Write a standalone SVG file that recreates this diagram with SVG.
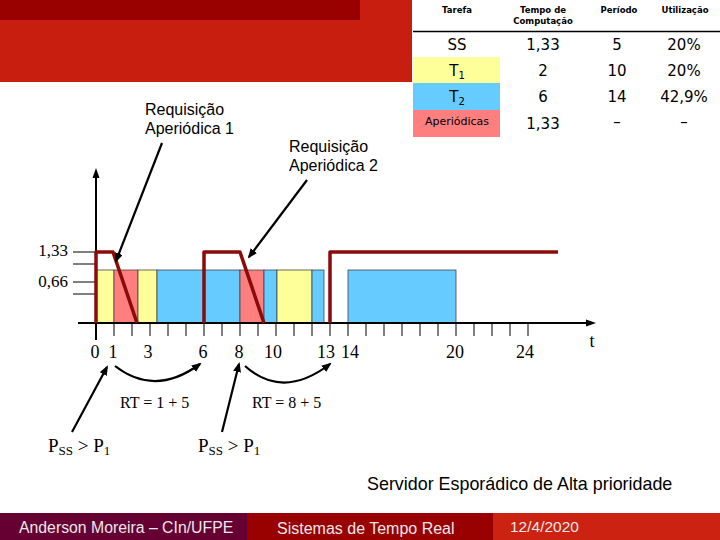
<svg xmlns="http://www.w3.org/2000/svg" width="720" height="540" viewBox="0 0 720 540">
<style>
.hdr{font-family:"DejaVu Sans","Liberation Sans",sans-serif;font-size:8.5px;font-weight:bold;fill:#000;text-anchor:middle}
.cell{font-family:"DejaVu Sans","Liberation Sans",sans-serif;font-size:15px;fill:#000;text-anchor:middle}
.lab{font-family:"Liberation Sans",Arial,sans-serif;font-size:15.5px;fill:#000}
.ser{font-family:"Liberation Serif","Times New Roman",serif;font-size:18px;fill:#000}
.foot{font-family:"Liberation Sans",Arial,sans-serif;font-size:15.5px;fill:#e8e8e8}
.y{fill:#ffff99;stroke:#444;stroke-width:0.8}
.b{fill:#66ccff;stroke:#444;stroke-width:0.8}
.p{fill:#ff7f7f;stroke:#444;stroke-width:0.8}
.wave{fill:none;stroke:#8b0a0a;stroke-width:3.5;stroke-linejoin:round}
.ax{stroke:#000;stroke-width:2;fill:none}
.tk{stroke:#000;stroke-width:1}
.arr{stroke:#000;stroke-width:2.2;fill:none;marker-end:url(#ah)}
</style>
<defs>
<marker id="ah" markerWidth="10" markerHeight="8" refX="8" refY="4" orient="auto" markerUnits="userSpaceOnUse">
<path d="M0,0 L10,4 L0,8 z" fill="#000"/>
</marker>
</defs>

<g id="header">
<rect x="0" y="0" width="412" height="82" fill="#c81e0f"/>
<rect x="0" y="0" width="360" height="20" fill="#990000"/>
</g>

<g id="table">
<rect x="413" y="57" width="87" height="26" fill="#ffff99"/>
<rect x="413" y="83" width="87" height="27" fill="#66ccff"/>
<rect x="413" y="110" width="87" height="27" fill="#ff7f7f"/>
<line x1="413" y1="31.5" x2="720" y2="31.5" stroke="#000" stroke-width="1.5"/>
<text class="hdr" x="457" y="13">Tarefa</text>
<text class="hdr" x="543" y="13">Tempo de</text>
<text class="hdr" x="543" y="24">Computação</text>
<text class="hdr" x="619" y="13">Período</text>
<text class="hdr" x="685" y="13">Utilização</text>
<text class="cell" x="457" y="50">SS</text>
<text class="cell" x="543" y="50">1,33</text>
<text class="cell" x="617" y="50">5</text>
<text class="cell" x="684" y="50">20%</text>
<text class="cell" x="457" y="76">T<tspan font-size="10" dy="3">1</tspan></text>
<text class="cell" x="543" y="76">2</text>
<text class="cell" x="617" y="76">10</text>
<text class="cell" x="684" y="76">20%</text>
<text class="cell" x="457" y="102">T<tspan font-size="10" dy="3">2</tspan></text>
<text class="cell" x="543" y="102">6</text>
<text class="cell" x="617" y="102">14</text>
<text class="cell" x="684" y="102">42,9%</text>
<text class="cell" x="457" y="125" style="font-size:11px">Aperiódicas</text>
<text class="cell" x="543" y="129">1,33</text>
<text class="cell" x="617" y="127">–</text>
<text class="cell" x="684" y="127">–</text>
</g>

<g id="bars">
<rect class="y" x="96" y="270" width="18" height="53"/>
<rect class="p" x="114" y="270" width="24" height="53"/>
<rect class="y" x="138" y="270" width="19" height="53"/>
<rect class="b" x="157" y="270" width="83" height="53"/>
<rect class="p" x="240" y="270" width="24" height="53"/>
<rect class="b" x="264" y="270" width="13" height="53"/>
<rect class="y" x="277" y="270" width="35" height="53"/>
<rect class="b" x="312" y="270" width="12" height="53"/>
<rect class="b" x="348" y="270" width="108" height="53"/>
</g>

<g id="axes">
<line class="ax" x1="96" y1="340" x2="96" y2="176"/>
<path d="M96,168 L92.5,178 L99.5,178 z" fill="#000"/>
<line class="ax" x1="78" y1="323" x2="588" y2="323"/>
<path d="M596,323 L586,319.5 L586,326.5 z" fill="#000"/>
<g class="tk">
<line x1="73" y1="252" x2="96" y2="252"/>
<line x1="73" y1="264" x2="96" y2="264"/>
<line x1="73" y1="282" x2="96" y2="282"/>
<line x1="73" y1="294" x2="96" y2="294"/>
<line x1="114" y1="323" x2="114" y2="336"/>
<line x1="132" y1="323" x2="132" y2="336"/>
<line x1="150" y1="323" x2="150" y2="336"/>
<line x1="168" y1="323" x2="168" y2="336"/>
<line x1="186" y1="323" x2="186" y2="336"/>
<line x1="204" y1="323" x2="204" y2="336"/>
<line x1="222" y1="323" x2="222" y2="336"/>
<line x1="240" y1="323" x2="240" y2="336"/>
<line x1="258" y1="323" x2="258" y2="336"/>
<line x1="276" y1="323" x2="276" y2="336"/>
<line x1="294" y1="323" x2="294" y2="336"/>
<line x1="312" y1="323" x2="312" y2="336"/>
<line x1="330" y1="323" x2="330" y2="336"/>
<line x1="348" y1="323" x2="348" y2="336"/>
<line x1="366" y1="323" x2="366" y2="336"/>
<line x1="384" y1="323" x2="384" y2="336"/>
<line x1="402" y1="323" x2="402" y2="336"/>
<line x1="420" y1="323" x2="420" y2="336"/>
<line x1="438" y1="323" x2="438" y2="336"/>
<line x1="456" y1="323" x2="456" y2="336"/>
<line x1="474" y1="323" x2="474" y2="336"/>
<line x1="492" y1="323" x2="492" y2="336"/>
<line x1="510" y1="323" x2="510" y2="336"/>
<line x1="528" y1="323" x2="528" y2="336"/>
</g>
<text class="ser" x="68" y="256" text-anchor="end" style="font-size:17px">1,33</text>
<text class="ser" x="68" y="287" text-anchor="end" style="font-size:17px">0,66</text>
<g class="ser" text-anchor="middle">
<text x="95" y="358">0</text>
<text x="113" y="358">1</text>
<text x="148" y="358">3</text>
<text x="203" y="358">6</text>
<text x="239" y="358">8</text>
<text x="273" y="358">10</text>
<text x="326" y="358">13</text>
<text x="350" y="358">14</text>
<text x="455" y="358">20</text>
<text x="525" y="358">24</text>
<text x="592" y="347">t</text>
</g>
</g>

<g id="waveform">
<path class="wave" d="M96,323 V252 H113 L137,323"/>
<path class="wave" d="M204,323 V252 H240 L264,323"/>
<path class="wave" d="M330,323 V252 H558"/>
</g>

<g id="req1">
<text class="lab" x="145" y="115" style="font-size:16px">Requisição</text>
<text class="lab" x="145" y="134" style="font-size:16px">Aperiódica 1</text>
</g>
<g id="req2">
<text class="lab" x="289" y="152" style="font-size:16px">Requisição</text>
<text class="lab" x="289" y="171" style="font-size:16px">Aperiódica 2</text>
</g>

<g id="connectors">
<line class="arr" x1="162" y1="143" x2="116" y2="261"/>
<line class="arr" x1="307" y1="180" x2="249" y2="257"/>
<path class="arr" d="M115,366 Q155,397 200,364"/>
<path class="arr" d="M245,366 Q283,400 330,364"/>
<line class="arr" x1="72" y1="432" x2="107" y2="367"/>
<line class="arr" x1="222" y1="432" x2="239" y2="364"/>
</g>

<g id="rt">
<text class="ser" x="120" y="408" style="font-size:16px">RT = 1 + 5</text>
<text class="ser" x="252" y="408" style="font-size:16px">RT = 8 + 5</text>
</g>
<g id="pss">
<text class="ser" x="48" y="452" style="font-size:19px">P<tspan font-size="13" dy="3">SS</tspan><tspan dy="-3"> &gt; P</tspan><tspan font-size="13" dy="3">1</tspan></text>
<text class="ser" x="198" y="452" style="font-size:19px">P<tspan font-size="13" dy="3">SS</tspan><tspan dy="-3"> &gt; P</tspan><tspan font-size="13" dy="3">1</tspan></text>
</g>

<g id="title">
<text class="lab" x="367" y="490" style="font-size:17.9px">Servidor Esporádico de Alta prioridade</text>
</g>

<g id="footer">
<rect x="0" y="513" width="247" height="27" fill="#660033"/>
<rect x="247" y="513" width="246" height="27" fill="#990000"/>
<rect x="493" y="513" width="227" height="27" fill="#cc2211"/>
<text class="foot" x="19" y="533" style="font-size:15.8px">Anderson Moreira – CIn/UFPE</text>
<text class="foot" x="277" y="534" style="font-size:16px">Sistemas de Tempo Real</text>
<text class="foot" x="510" y="532">12/4/2020</text>
</g>
</svg>
